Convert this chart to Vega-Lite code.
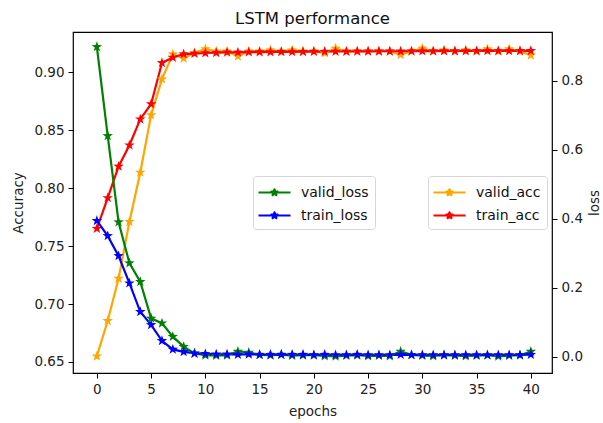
{
  "$schema": "https://vega.github.io/schema/vega-lite/v6.json",
  "autosize": "none",
  "width": 479,
  "height": 341,
  "padding": {"left": 73, "top": 32, "right": 51, "bottom": 50},
  "background": "white",
  "title": {"text": "LSTM performance", "font": "DejaVu Sans", "fontSize": 16.5, "fontWeight": "normal", "color": "#111", "offset": 5},
  "config": {
    "font": "DejaVu Sans",
    "view": {"stroke": "#000", "strokeWidth": 1.2},
    "axis": {"grid": false, "domain": false, "tickColor": "#000", "tickSize": 5, "tickWidth": 1, "labelPadding": 4, "labelFont": "DejaVu Sans", "labelFontSize": 13.5, "labelColor": "#222", "titleFont": "DejaVu Sans", "titleFontSize": 13.5, "titleFontWeight": "normal", "titleColor": "#222"},
    "legend": {"orient": "none", "symbolType": "M0,-0.36L0.085,-0.117L0.342,-0.111L0.137,0.045L0.212,0.291L0,0.144L-0.212,0.291L-0.137,0.045L-0.342,-0.111L-0.085,-0.117Z M-1.78,0L1.78,0", "symbolSize": 324, "symbolStrokeWidth": 2.2, "symbolOffset": 5, "labelOffset": 16, "labelFont": "DejaVu Sans", "labelFontSize": 14, "labelColor": "#111", "padding": 6, "rowPadding": 5, "strokeColor": "#d6d6d6", "fillColor": "white", "cornerRadius": 3}
  },
  "data": {"values": [
    {"epoch":0,"series":"valid_loss","value":0.899},{"epoch":1,"series":"valid_loss","value":0.641},{"epoch":2,"series":"valid_loss","value":0.391},{"epoch":3,"series":"valid_loss","value":0.272},{"epoch":4,"series":"valid_loss","value":0.218},{"epoch":5,"series":"valid_loss","value":0.112},{"epoch":6,"series":"valid_loss","value":0.098},{"epoch":7,"series":"valid_loss","value":0.059},{"epoch":8,"series":"valid_loss","value":0.030},{"epoch":9,"series":"valid_loss","value":0.010},{"epoch":10,"series":"valid_loss","value":0.005},{"epoch":11,"series":"valid_loss","value":0.004},{"epoch":12,"series":"valid_loss","value":0.005},{"epoch":13,"series":"valid_loss","value":0.016},{"epoch":14,"series":"valid_loss","value":0.013},{"epoch":15,"series":"valid_loss","value":0.006},{"epoch":16,"series":"valid_loss","value":0.005},{"epoch":17,"series":"valid_loss","value":0.007},{"epoch":18,"series":"valid_loss","value":0.004},{"epoch":19,"series":"valid_loss","value":0.005},{"epoch":20,"series":"valid_loss","value":0.005},{"epoch":21,"series":"valid_loss","value":0.003},{"epoch":22,"series":"valid_loss","value":0.002},{"epoch":23,"series":"valid_loss","value":0.004},{"epoch":24,"series":"valid_loss","value":0.005},{"epoch":25,"series":"valid_loss","value":0.003},{"epoch":26,"series":"valid_loss","value":0.004},{"epoch":27,"series":"valid_loss","value":0.003},{"epoch":28,"series":"valid_loss","value":0.016},{"epoch":29,"series":"valid_loss","value":0.006},{"epoch":30,"series":"valid_loss","value":0.004},{"epoch":31,"series":"valid_loss","value":0.003},{"epoch":32,"series":"valid_loss","value":0.005},{"epoch":33,"series":"valid_loss","value":0.004},{"epoch":34,"series":"valid_loss","value":0.003},{"epoch":35,"series":"valid_loss","value":0.004},{"epoch":36,"series":"valid_loss","value":0.005},{"epoch":37,"series":"valid_loss","value":0.002},{"epoch":38,"series":"valid_loss","value":0.004},{"epoch":39,"series":"valid_loss","value":0.005},{"epoch":40,"series":"valid_loss","value":0.016},
    {"epoch":0,"series":"train_loss","value":0.395},{"epoch":1,"series":"train_loss","value":0.351},{"epoch":2,"series":"train_loss","value":0.293},{"epoch":3,"series":"train_loss","value":0.214},{"epoch":4,"series":"train_loss","value":0.131},{"epoch":5,"series":"train_loss","value":0.093},{"epoch":6,"series":"train_loss","value":0.047},{"epoch":7,"series":"train_loss","value":0.022},{"epoch":8,"series":"train_loss","value":0.015},{"epoch":9,"series":"train_loss","value":0.011},{"epoch":10,"series":"train_loss","value":0.009},{"epoch":11,"series":"train_loss","value":0.008},{"epoch":12,"series":"train_loss","value":0.008},{"epoch":13,"series":"train_loss","value":0.007},{"epoch":14,"series":"train_loss","value":0.008},{"epoch":15,"series":"train_loss","value":0.007},{"epoch":16,"series":"train_loss","value":0.007},{"epoch":17,"series":"train_loss","value":0.007},{"epoch":18,"series":"train_loss","value":0.007},{"epoch":19,"series":"train_loss","value":0.007},{"epoch":20,"series":"train_loss","value":0.006},{"epoch":21,"series":"train_loss","value":0.007},{"epoch":22,"series":"train_loss","value":0.006},{"epoch":23,"series":"train_loss","value":0.006},{"epoch":24,"series":"train_loss","value":0.007},{"epoch":25,"series":"train_loss","value":0.006},{"epoch":26,"series":"train_loss","value":0.006},{"epoch":27,"series":"train_loss","value":0.006},{"epoch":28,"series":"train_loss","value":0.007},{"epoch":29,"series":"train_loss","value":0.006},{"epoch":30,"series":"train_loss","value":0.006},{"epoch":31,"series":"train_loss","value":0.006},{"epoch":32,"series":"train_loss","value":0.006},{"epoch":33,"series":"train_loss","value":0.006},{"epoch":34,"series":"train_loss","value":0.006},{"epoch":35,"series":"train_loss","value":0.006},{"epoch":36,"series":"train_loss","value":0.006},{"epoch":37,"series":"train_loss","value":0.006},{"epoch":38,"series":"train_loss","value":0.006},{"epoch":39,"series":"train_loss","value":0.006},{"epoch":40,"series":"train_loss","value":0.007},
    {"epoch":0,"series":"valid_acc","value":0.655},{"epoch":1,"series":"valid_acc","value":0.6855},{"epoch":2,"series":"valid_acc","value":0.722},{"epoch":3,"series":"valid_acc","value":0.771},{"epoch":4,"series":"valid_acc","value":0.8135},{"epoch":5,"series":"valid_acc","value":0.863},{"epoch":6,"series":"valid_acc","value":0.894},{"epoch":7,"series":"valid_acc","value":0.9155},{"epoch":8,"series":"valid_acc","value":0.912},{"epoch":9,"series":"valid_acc","value":0.9166},{"epoch":10,"series":"valid_acc","value":0.92},{"epoch":11,"series":"valid_acc","value":0.918},{"epoch":12,"series":"valid_acc","value":0.918},{"epoch":13,"series":"valid_acc","value":0.9137},{"epoch":14,"series":"valid_acc","value":0.918},{"epoch":15,"series":"valid_acc","value":0.918},{"epoch":16,"series":"valid_acc","value":0.919},{"epoch":17,"series":"valid_acc","value":0.918},{"epoch":18,"series":"valid_acc","value":0.919},{"epoch":19,"series":"valid_acc","value":0.918},{"epoch":20,"series":"valid_acc","value":0.918},{"epoch":21,"series":"valid_acc","value":0.9165},{"epoch":22,"series":"valid_acc","value":0.9205},{"epoch":23,"series":"valid_acc","value":0.918},{"epoch":24,"series":"valid_acc","value":0.918},{"epoch":25,"series":"valid_acc","value":0.918},{"epoch":26,"series":"valid_acc","value":0.918},{"epoch":27,"series":"valid_acc","value":0.918},{"epoch":28,"series":"valid_acc","value":0.915},{"epoch":29,"series":"valid_acc","value":0.918},{"epoch":30,"series":"valid_acc","value":0.9205},{"epoch":31,"series":"valid_acc","value":0.918},{"epoch":32,"series":"valid_acc","value":0.919},{"epoch":33,"series":"valid_acc","value":0.918},{"epoch":34,"series":"valid_acc","value":0.919},{"epoch":35,"series":"valid_acc","value":0.918},{"epoch":36,"series":"valid_acc","value":0.92},{"epoch":37,"series":"valid_acc","value":0.918},{"epoch":38,"series":"valid_acc","value":0.92},{"epoch":39,"series":"valid_acc","value":0.918},{"epoch":40,"series":"valid_acc","value":0.9145},
    {"epoch":0,"series":"train_acc","value":0.765},{"epoch":1,"series":"train_acc","value":0.7915},{"epoch":2,"series":"train_acc","value":0.8187},{"epoch":3,"series":"train_acc","value":0.837},{"epoch":4,"series":"train_acc","value":0.8594},{"epoch":5,"series":"train_acc","value":0.8725},{"epoch":6,"series":"train_acc","value":0.908},{"epoch":7,"series":"train_acc","value":0.9126},{"epoch":8,"series":"train_acc","value":0.9155},{"epoch":9,"series":"train_acc","value":0.916},{"epoch":10,"series":"train_acc","value":0.9165},{"epoch":11,"series":"train_acc","value":0.9167},{"epoch":12,"series":"train_acc","value":0.917},{"epoch":13,"series":"train_acc","value":0.917},{"epoch":14,"series":"train_acc","value":0.9172},{"epoch":15,"series":"train_acc","value":0.9173},{"epoch":16,"series":"train_acc","value":0.9174},{"epoch":17,"series":"train_acc","value":0.9175},{"epoch":18,"series":"train_acc","value":0.9175},{"epoch":19,"series":"train_acc","value":0.9176},{"epoch":20,"series":"train_acc","value":0.9177},{"epoch":21,"series":"train_acc","value":0.9177},{"epoch":22,"series":"train_acc","value":0.9178},{"epoch":23,"series":"train_acc","value":0.9178},{"epoch":24,"series":"train_acc","value":0.9179},{"epoch":25,"series":"train_acc","value":0.9179},{"epoch":26,"series":"train_acc","value":0.918},{"epoch":27,"series":"train_acc","value":0.918},{"epoch":28,"series":"train_acc","value":0.918},{"epoch":29,"series":"train_acc","value":0.9181},{"epoch":30,"series":"train_acc","value":0.9181},{"epoch":31,"series":"train_acc","value":0.9181},{"epoch":32,"series":"train_acc","value":0.9182},{"epoch":33,"series":"train_acc","value":0.9182},{"epoch":34,"series":"train_acc","value":0.9182},{"epoch":35,"series":"train_acc","value":0.9183},{"epoch":36,"series":"train_acc","value":0.9183},{"epoch":37,"series":"train_acc","value":0.9183},{"epoch":38,"series":"train_acc","value":0.9183},{"epoch":39,"series":"train_acc","value":0.9184},{"epoch":40,"series":"train_acc","value":0.9184}
  ]},
  "layer": [
    {
      "transform": [{"filter": {"field": "series", "oneOf": ["valid_acc", "train_acc"]}}],
      "mark": {"type": "line", "strokeWidth": 2.2, "point": {"shape": "M0,-1L0.235,-0.324L0.951,-0.309L0.38,0.124L0.588,0.809L0,0.4L-0.588,0.809L-0.38,0.124L-0.951,-0.309L-0.235,-0.324Z", "filled": true, "size": 121}},
      "encoding": {
        "x": {"field": "epoch", "type": "quantitative", "scale": {"domain": [-2.2, 41.95], "nice": false, "zero": false}, "axis": {"values": [0, 5, 10, 15, 20, 25, 30, 35, 40], "title": "epochs", "titlePadding": 9}},
        "y": {"field": "value", "type": "quantitative", "scale": {"domain": [0.6405, 0.9346], "nice": false, "zero": false}, "axis": {"orient": "left", "values": [0.65, 0.7, 0.75, 0.8, 0.85, 0.9], "format": ".2f", "title": "Accuracy", "titlePadding": 8}},
        "color": {"field": "series", "type": "nominal", "scale": {"domain": ["valid_acc", "train_acc"], "range": ["#ffa500", "#ff0000"]},
          "legend": {"title": null, "legendX": 355, "legendY": 144, "encode": {"symbols": {"update": {"strokeJoin": {"value": "round"}}}}}}
      }
    },
    {
      "transform": [{"filter": {"field": "series", "oneOf": ["valid_loss", "train_loss"]}}],
      "mark": {"type": "line", "strokeWidth": 2.2, "point": {"shape": "M0,-1L0.235,-0.324L0.951,-0.309L0.38,0.124L0.588,0.809L0,0.4L-0.588,0.809L-0.38,0.124L-0.951,-0.309L-0.235,-0.324Z", "filled": true, "size": 121}},
      "encoding": {
        "x": {"field": "epoch", "type": "quantitative", "scale": {"domain": [-2.2, 41.95], "nice": false, "zero": false}, "axis": {"values": [0, 5, 10, 15, 20, 25, 30, 35, 40], "title": "epochs", "titlePadding": 9}},
        "y": {"field": "value", "type": "quantitative", "scale": {"domain": [-0.0464, 0.942], "nice": false, "zero": false}, "axis": {"orient": "right", "values": [0, 0.2, 0.4, 0.6, 0.8], "format": ".1f", "title": "loss", "titleAngle": 270, "titlePadding": 19}},
        "color": {"field": "series", "type": "nominal", "scale": {"domain": ["valid_loss", "train_loss"], "range": ["#008000", "#0000ff"]},
          "legend": {"title": null, "legendX": 180, "legendY": 144, "encode": {"symbols": {"update": {"strokeJoin": {"value": "round"}}}}}}
      }
    }
  ],
  "resolve": {"scale": {"y": "independent", "color": "independent"}}
}
